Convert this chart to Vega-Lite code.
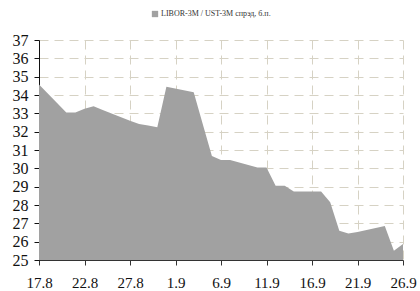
{
  "$schema": "https://vega.github.io/schema/vega-lite/v6.json",
  "width": 364,
  "height": 220,
  "autosize": "none",
  "padding": {"left": 39, "top": 40, "right": 17, "bottom": 31},
  "background": "white",
  "config": {"view": {"stroke": null}, "font": "Liberation Serif"},
  "data": {"values": [
    {"date": "2007-08-17", "v": 34.57, "s": "LIBOR-3M / UST-3M спрэд, б.п."},
    {"date": "2007-08-20", "v": 33.05, "s": "LIBOR-3M / UST-3M спрэд, б.п."},
    {"date": "2007-08-21", "v": 33.05, "s": "LIBOR-3M / UST-3M спрэд, б.п."},
    {"date": "2007-08-22", "v": 33.25, "s": "LIBOR-3M / UST-3M спрэд, б.п."},
    {"date": "2007-08-23", "v": 33.38, "s": "LIBOR-3M / UST-3M спрэд, б.п."},
    {"date": "2007-08-24", "v": 33.18, "s": "LIBOR-3M / UST-3M спрэд, б.п."},
    {"date": "2007-08-27", "v": 32.6, "s": "LIBOR-3M / UST-3M спрэд, б.п."},
    {"date": "2007-08-28", "v": 32.42, "s": "LIBOR-3M / UST-3M спрэд, б.п."},
    {"date": "2007-08-29", "v": 32.33, "s": "LIBOR-3M / UST-3M спрэд, б.п."},
    {"date": "2007-08-30", "v": 32.24, "s": "LIBOR-3M / UST-3M спрэд, б.п."},
    {"date": "2007-08-31", "v": 34.45, "s": "LIBOR-3M / UST-3M спрэд, б.п."},
    {"date": "2007-09-03", "v": 34.15, "s": "LIBOR-3M / UST-3M спрэд, б.п."},
    {"date": "2007-09-04", "v": 32.4, "s": "LIBOR-3M / UST-3M спрэд, б.п."},
    {"date": "2007-09-05", "v": 30.67, "s": "LIBOR-3M / UST-3M спрэд, б.п."},
    {"date": "2007-09-06", "v": 30.46, "s": "LIBOR-3M / UST-3M спрэд, б.п."},
    {"date": "2007-09-07", "v": 30.46, "s": "LIBOR-3M / UST-3M спрэд, б.п."},
    {"date": "2007-09-10", "v": 30.04, "s": "LIBOR-3M / UST-3M спрэд, б.п."},
    {"date": "2007-09-11", "v": 30.04, "s": "LIBOR-3M / UST-3M спрэд, б.п."},
    {"date": "2007-09-12", "v": 29.05, "s": "LIBOR-3M / UST-3M спрэд, б.п."},
    {"date": "2007-09-13", "v": 29.05, "s": "LIBOR-3M / UST-3M спрэд, б.п."},
    {"date": "2007-09-14", "v": 28.73, "s": "LIBOR-3M / UST-3M спрэд, б.п."},
    {"date": "2007-09-17", "v": 28.73, "s": "LIBOR-3M / UST-3M спрэд, б.п."},
    {"date": "2007-09-18", "v": 28.15, "s": "LIBOR-3M / UST-3M спрэд, б.п."},
    {"date": "2007-09-19", "v": 26.6, "s": "LIBOR-3M / UST-3M спрэд, б.п."},
    {"date": "2007-09-20", "v": 26.44, "s": "LIBOR-3M / UST-3M спрэд, б.п."},
    {"date": "2007-09-21", "v": 26.53, "s": "LIBOR-3M / UST-3M спрэд, б.п."},
    {"date": "2007-09-24", "v": 26.85, "s": "LIBOR-3M / UST-3M спрэд, б.п."},
    {"date": "2007-09-25", "v": 25.5, "s": "LIBOR-3M / UST-3M спрэд, б.п."},
    {"date": "2007-09-26", "v": 25.87, "s": "LIBOR-3M / UST-3M спрэд, б.п."}
  ]},
  "mark": {"type": "area", "opacity": 1, "clip": true},
  "encoding": {
    "x": {
      "field": "date", "type": "temporal",
      "scale": {"type": "utc", "domain": [{"year": 2007, "month": 8, "date": 17, "utc": true}, {"year": 2007, "month": 9, "date": 26, "utc": true}], "nice": false},
      "axis": {
        "title": null,
        "values": [
          {"year": 2007, "month": 8, "date": 17, "utc": true},
          {"year": 2007, "month": 8, "date": 22, "utc": true},
          {"year": 2007, "month": 8, "date": 27, "utc": true},
          {"year": 2007, "month": 9, "date": 1, "utc": true},
          {"year": 2007, "month": 9, "date": 6, "utc": true},
          {"year": 2007, "month": 9, "date": 11, "utc": true},
          {"year": 2007, "month": 9, "date": 16, "utc": true},
          {"year": 2007, "month": 9, "date": 21, "utc": true},
          {"year": 2007, "month": 9, "date": 26, "utc": true}
        ],
        "format": "%-d.%-m",
        "labelFontSize": 15,
        "labelColor": "#111",
        "labelPadding": 10,
        "labelFlush": false,
        "labelOverlap": false,
        "tickSize": 5,
        "tickColor": "#333",
        "domainColor": "#333",
        "grid": true,
        "gridColor": "#d6d2c4",
        "gridDash": [9, 6],
        "zindex": 0
      }
    },
    "y": {
      "field": "v", "type": "quantitative",
      "scale": {"domain": [25, 37], "zero": false, "nice": false},
      "axis": {
        "title": null,
        "values": [25, 26, 27, 28, 29, 30, 31, 32, 33, 34, 35, 36, 37],
        "labelFontSize": 16,
        "labelColor": "#111",
        "labelPadding": 6,
        "tickSize": 5,
        "tickColor": "#111",
        "domainColor": "#111",
        "grid": true,
        "gridColor": "#d6d2c4",
        "gridDash": [9, 6],
        "zindex": 0
      }
    },
    "color": {
      "field": "s", "type": "nominal",
      "scale": {"range": ["#a1a1a1"]},
      "legend": {
        "title": null,
        "orient": "none",
        "legendX": 112,
        "legendY": -30,
        "symbolType": "square",
        "symbolSize": 40,
        "labelFontSize": 8,
        "labelColor": "#333",
        "labelOffset": 2
      }
    }
  }
}
